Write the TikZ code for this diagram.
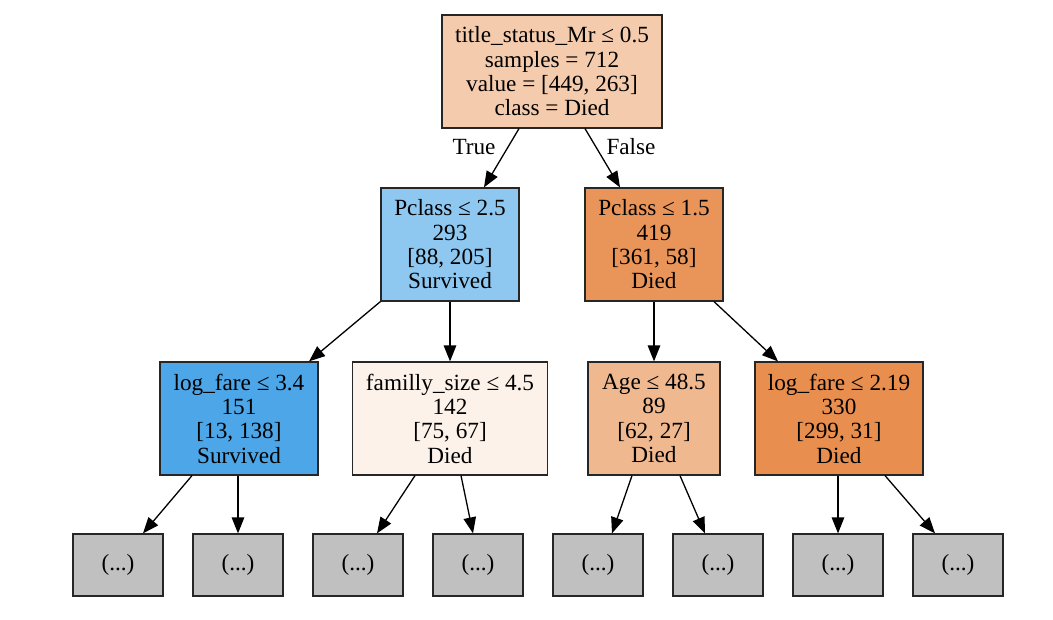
\documentclass[tikz,border=0pt]{standalone}
\usepackage{fontspec}
\setmainfont{Liberation Serif}
\usetikzlibrary{arrows.meta}
\definecolor{croot}{RGB}{244,203,173}
\definecolor{cpa}{RGB}{142,199,240}
\definecolor{cpb}{RGB}{233,149,89}
\definecolor{cla}{RGB}{76,166,231}
\definecolor{cfam}{RGB}{252,242,234}
\definecolor{cage}{RGB}{240,184,143}
\definecolor{clb}{RGB}{232,142,78}
\definecolor{cleaf}{RGB}{192,192,192}
\begin{document}
\begin{tikzpicture}[x=1pt,y=-1pt,
  treebox/.style={draw=black!85,line width=1.2pt,inner sep=0pt,align=center,
    font=\fontsize{23.2}{24.3}\selectfont,minimum height=113pt},
  leafbox/.style={draw=black!85,line width=1.2pt,inner sep=0pt,fill=cleaf,
    font=\fontsize{23.2}{24.3}\selectfont,minimum width=90pt,minimum height=62pt},
  edge/.style={line width=1.3pt,-{Triangle[length=16pt,width=12.5pt]}},
  elabel/.style={font=\fontsize{23.2}{24.3}\selectfont}]
\useasboundingbox (0,0) rectangle (1053,620);
\fill[white] (0,0) rectangle (1053,620);
\node[treebox,fill=croot,minimum width=220pt] (root) at (552,71.5)
  {title\_status\_Mr ≤ 0.5\\samples = 712\\value = [449, 263]\\class = Died};
\node[treebox,fill=cpa,minimum width=138pt] (pa) at (450,244.5)
  {Pclass ≤ 2.5\\293\\{}[88, 205]\\Survived};
\node[treebox,fill=cpb,minimum width=138pt] (pb) at (654,244.5)
  {Pclass ≤ 1.5\\419\\{}[361, 58]\\Died};
\node[treebox,fill=cla,minimum width=158pt] (la) at (239,418.5)
  {log\_fare ≤ 3.4\\151\\{}[13, 138]\\Survived};
\node[treebox,fill=cfam,minimum width=195pt] (fam) at (450,418.5)
  {familly\_size ≤ 4.5\\142\\{}[75, 67]\\Died};
\node[treebox,fill=cage,minimum width=132pt] (age) at (654,418.5)
  {Age ≤ 48.5\\89\\{}[62, 27]\\Died};
\node[treebox,fill=clb,minimum width=168pt] (lb) at (839,418.5)
  {log\_fare ≤ 2.19\\330\\{}[299, 31]\\Died};
\foreach \i/\x in {1/118,2/238,3/358,4/478,5/598,6/718,7/838,8/958}
  \node[leafbox] (l\i) at (\x,565) {(...)};
\draw[edge] ([xshift=-33pt]root.south) -- ([xshift=34pt]pa.north);
\draw[edge] ([xshift=33pt]root.south) -- ([xshift=-34pt]pb.north);
\node[elabel] (tlab) at (474,147) {True};
\node[elabel] (flab) at (631,147) {False};
\draw[edge] (pa.south west) -- ([xshift=70pt]la.north);
\draw[edge] (pa.south) -- (fam.north);
\draw[edge] (pb.south) -- (age.north);
\draw[edge] ([xshift=60pt]pb.south) -- ([xshift=-61pt]lb.north);
\draw[edge] ([xshift=-47pt]la.south) -- ([xshift=25pt]l1.north);
\draw[edge] ([xshift=-1pt]la.south) -- (l2.north);
\draw[edge] ([xshift=-35pt]fam.south) -- ([xshift=19pt]l3.north);
\draw[edge] ([xshift=11pt]fam.south) -- ([xshift=-5pt]l4.north);
\draw[edge] ([xshift=-22pt]age.south) -- ([xshift=14pt]l5.north);
\draw[edge] ([xshift=26pt]age.south) -- ([xshift=-13pt]l6.north);
\draw[edge] ([xshift=-1pt]lb.south) -- (l7.north);
\draw[edge] ([xshift=46pt]lb.south) -- ([xshift=-23pt]l8.north);
\end{tikzpicture}
\end{document}
